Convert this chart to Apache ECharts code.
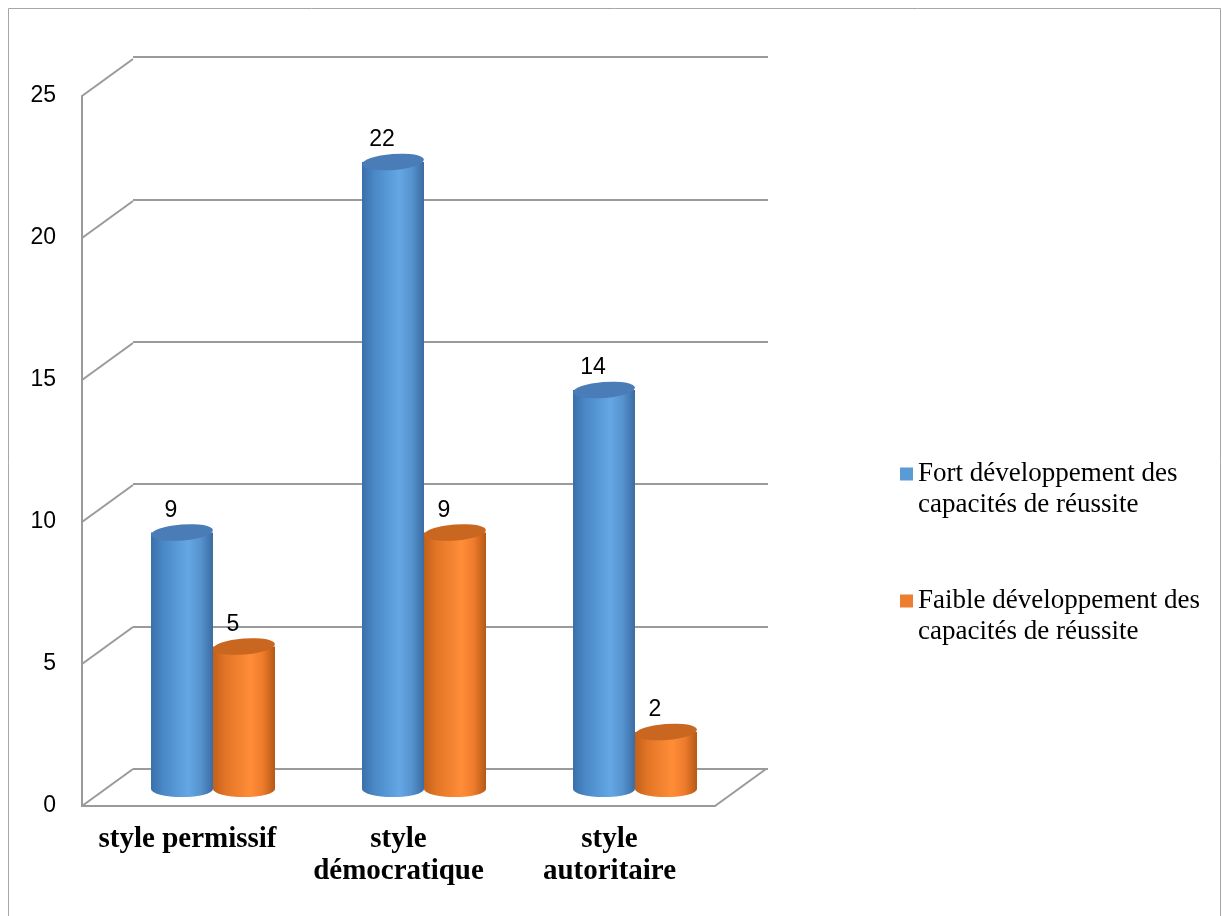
<!DOCTYPE html>
<html><head><meta charset="utf-8">
<script src="https://cdn.jsdelivr.net/npm/echarts@6/dist/echarts.min.js"></script>
<style>html,body{margin:0;padding:0;background:#fff}#c{width:1222px;height:916px}</style>
</head><body><div id="c"></div>
<script>
// ---- data ----
const categories = ['style permissif', 'style\ndémocratique', 'style\nautoritaire'];
const seriesNames = ['Fort développement des\ncapacités de réussite', 'Faible développement des\ncapacités de réussite'];
const fortValues = [9, 22, 14];
const faibleValues = [5, 9, 2];
const yTicks = [0, 5, 10, 15, 20, 25];
const yMin = 0, yMax = 25, yStep = 5;

// ---- styles ----
const LINE = '#9a9a9a';
const DX = 51, DY = -37;
const SANS = 'Liberation Sans';
const SERIF = 'Liberation Serif';

const blueStops = [
  {offset: 0, color: '#3a70aa'}, {offset: 0.2, color: '#4a88c7'},
  {offset: 0.6, color: '#64a7e4'}, {offset: 0.8, color: '#5693cf'}, {offset: 1, color: '#3b6ca2'}];
const orangeStops = [
  {offset: 0, color: '#c2601c'}, {offset: 0.2, color: '#e27526'},
  {offset: 0.6, color: '#ff8d38'}, {offset: 0.8, color: '#ef7c2c'}, {offset: 1, color: '#b55915'}];

function makeCylinder(stops, topFill, side) {
  return function (params, api) {
    const idx = api.value(0), v = api.value(1);
    const band = api.size([1, 0])[0];
    const w = band * 62 / 211;
    const base = api.coord([idx, 0]);
    const top = api.coord([idx, v]);
    const r = w / 2, ry = 8;
    const cx = base[0] + side * r;
    const y0 = base[1], y1 = top[1];
    const grad = () => new echarts.graphic.LinearGradient(0, 0, 1, 0, stops);
    return {
      type: 'group',
      children: [
        {type: 'circle', shape: {cx: 0, cy: 0, r: r}, x: cx, y: y0, scaleY: ry / r, style: {fill: grad()}},
        {type: 'rect', shape: {x: cx - r, y: y1, width: w, height: y0 - y1}, style: {fill: grad()}},
        {type: 'circle', shape: {cx: 0, cy: 0, r: r}, x: cx, y: y1, scaleY: ry / r, rotation: 0.08, style: {fill: topFill}},
        {type: 'text', x: cx - 11, y: y1 - 22, style: {text: String(v), fontSize: 23, fontFamily: SANS, fill: '#000', align: 'center', verticalAlign: 'middle'}}
      ]
    };
  };
}

function wallRender(params, api) {
  const v = api.value(1);
  const p = api.coord([0, v]);
  const x0 = params.coordSys.x;
  const children = [{type: 'line', shape: {x1: x0, y1: p[1], x2: x0 + DX, y2: p[1] + DY}, style: {stroke: LINE, lineWidth: 2}}];
  if (v === yMin) {
    const xr = params.coordSys.x + params.coordSys.width;
    children.push({type: 'line', shape: {x1: xr, y1: p[1], x2: xr + DX, y2: p[1] + DY}, style: {stroke: LINE, lineWidth: 2}});
  }
  return {type: 'group', children: children};
}

const chart = echarts.init(document.getElementById('c'));
chart.setOption({
  animation: false,
  backgroundColor: '#fff',
  graphic: [{type: 'rect', shape: {x: 8.5, y: 8.5, width: 1212, height: 930}, style: {fill: 'none', stroke: '#a6a6a6', lineWidth: 1}, silent: true, z: -1}],
  grid: [
    {left: 82, top: 96, width: 633, height: 710},
    {left: 133, top: 57, width: 635, height: 712},
    {left: 107.5, top: 76.5, width: 633, height: 712.5}
  ],
  xAxis: [
    {gridIndex: 0, type: 'category', data: categories,
      axisLine: {show: true, lineStyle: {color: LINE, width: 2}}, axisTick: {show: false},
      axisLabel: {interval: 0, margin: 18, color: '#000', fontFamily: SERIF, fontWeight: 'bold', fontSize: 29, lineHeight: 32, verticalAlign: 'top'},
      splitLine: {show: false}},
    {gridIndex: 1, type: 'category', data: categories, show: false},
    {gridIndex: 2, type: 'category', data: categories, show: false}
  ],
  yAxis: [
    {gridIndex: 0, type: 'value', min: yMin, max: yMax, interval: yStep,
      axisLine: {show: true, lineStyle: {color: LINE, width: 2}}, axisTick: {show: false},
      axisLabel: {margin: 26, color: '#000', fontFamily: SANS, fontSize: 23},
      splitLine: {show: false}},
    {gridIndex: 1, type: 'value', min: yMin, max: yMax, interval: yStep,
      axisLine: {show: false}, axisTick: {show: false}, axisLabel: {show: false},
      splitLine: {show: true, lineStyle: {color: LINE, width: 2}}},
    {gridIndex: 2, type: 'value', min: yMin, max: yMax, interval: yStep, show: false, splitLine: {show: false}}
  ],
  legend: {
    data: seriesNames, orient: 'vertical', left: 900, top: 427.5, padding: 0,
    itemWidth: 13, itemHeight: 13, itemGap: 34, icon: 'rect',
    formatter: name => '\n' + name,
    textStyle: {fontFamily: SERIF, fontSize: 27, lineHeight: 31, color: '#000'}
  },
  series: [
    {type: 'custom', name: 'walls', xAxisIndex: 0, yAxisIndex: 0, renderItem: wallRender,
      data: yTicks.map(v => [0, v]), silent: true, z: 1},
    {type: 'custom', name: seriesNames[1], xAxisIndex: 2, yAxisIndex: 2,
      itemStyle: {color: '#ed7d31'}, renderItem: makeCylinder(orangeStops, '#c9661f', 1),
      data: faibleValues.map((v, i) => [i, v]), z: 3},
    {type: 'custom', name: seriesNames[0], xAxisIndex: 2, yAxisIndex: 2,
      itemStyle: {color: '#5b9bd5'}, renderItem: makeCylinder(blueStops, '#4a7db7', -1),
      data: fortValues.map((v, i) => [i, v]), z: 4}
  ]
});
</script>
</body></html>
